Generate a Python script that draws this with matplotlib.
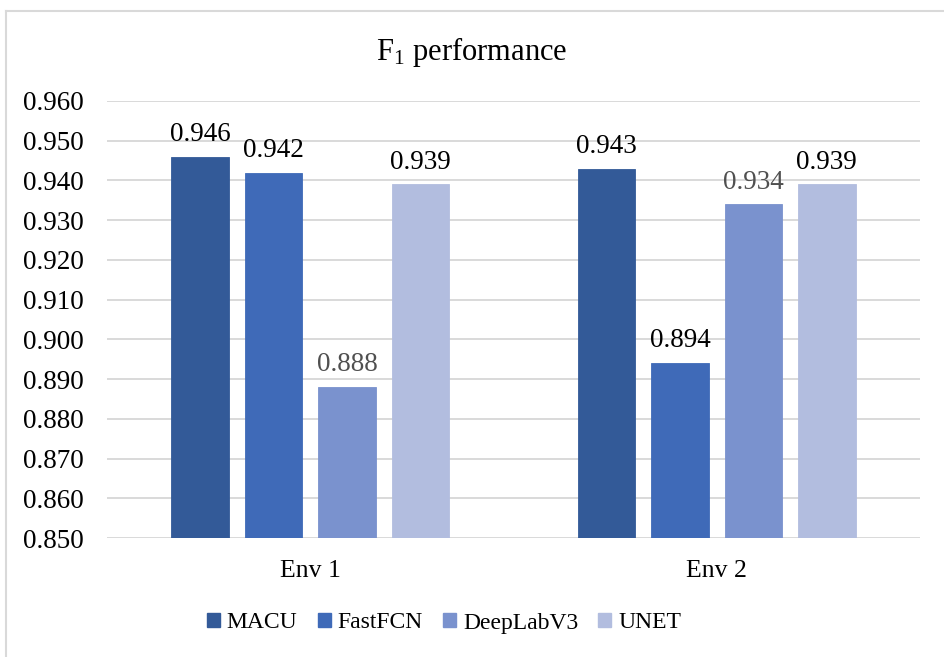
import matplotlib
matplotlib.use("Agg")
import matplotlib.pyplot as plt
import numpy as np
from matplotlib.lines import Line2D

# Chart data
environments = ["Env 1", "Env 2"]
models = ["MACU", "FastFCN", "DeepLabV3", "UNET"]
macu = [0.946, 0.943]
fastfcn = [0.942, 0.894]
deeplabv3 = [0.888, 0.934]
unet = [0.939, 0.939]
y_ticks = [0.850, 0.860, 0.870, 0.880, 0.890, 0.900, 0.910, 0.920, 0.930, 0.940, 0.950, 0.960]

series = [macu, fastfcn, deeplabv3, unet]
colors = ["#335A98", "#3F6AB8", "#7A92CE", "#B2BDDF"]
label_colors = ["#000000", "#000000", "#505050", "#000000"]

plt.rcParams["font.family"] = ["Liberation Serif", "DejaVu Serif"]
plt.rcParams["mathtext.fontset"] = "custom"
plt.rcParams["mathtext.rm"] = "Liberation Serif"
plt.rcParams["mathtext.it"] = "Liberation Serif:italic"
plt.rcParams["mathtext.bf"] = "Liberation Serif:bold"

fig = plt.figure(figsize=(9.44, 6.57), dpi=100)
ax = fig.add_axes([107 / 944, 1 - 538 / 657, (920 - 107) / 944, (538 - 101) / 657])

x = np.arange(len(environments))
step = 0.1806
width = 0.142
offsets = (np.arange(len(models)) - 1.5) * step

for vals, off, c, lc, name in zip(series, offsets, colors, label_colors, models):
    bars = ax.bar(x + off, vals, width, bottom=0, color=c, edgecolor=c,
                  linewidth=0.6, label=name, zorder=3)
    for b, v in zip(bars, vals):
        ax.annotate(f"{v:.3f}", (b.get_x() + b.get_width() / 2, v),
                    xytext=(0, 7), textcoords="offset points",
                    ha="center", va="bottom", fontsize=19.5, color=lc,
                    family="Liberation Serif")

ax.set_ylim(0.850, 0.960)
ax.set_xlim(-0.5, 1.5)
ax.set_yticks(y_ticks)
ax.set_yticklabels([f"{t:.3f}" for t in y_ticks], family="Liberation Serif")
ax.set_xticks(x)
ax.set_xticklabels(environments, family="Liberation Serif")
ax.tick_params(axis="y", length=0, labelsize=19.5, pad=17)
ax.tick_params(axis="x", length=0, labelsize=18.5, pad=16)
ax.yaxis.grid(True, color="#D9D9D9", linewidth=1.4, zorder=0)
ax.set_axisbelow(True)
for s in ax.spines.values():
    s.set_visible(False)

fig.text(0.5, 1 - 52 / 657, "F$_1$ performance", ha="center", va="center",
         fontsize=22)

handles = [plt.Rectangle((0, 0), 1, 1, color=c) for c in colors]
fig.legend(handles, models, loc="center", bbox_to_anchor=(444 / 944, 1 - 623 / 657),
           ncol=4, frameon=False, fontsize=17, handlelength=0.55, handleheight=0.55,
           handletextpad=0.3, columnspacing=0.85)

# Light frame on the left and top edges
fig.add_artist(Line2D([6 / 944, 6 / 944], [0, 1 - 11 / 657], transform=fig.transFigure,
                      color="#D9D9D9", linewidth=1.5))
fig.add_artist(Line2D([6 / 944, 1], [1 - 11 / 657, 1 - 11 / 657], transform=fig.transFigure,
                      color="#D9D9D9", linewidth=1.5))

fig.savefig("out.png", dpi=100, facecolor="white")
